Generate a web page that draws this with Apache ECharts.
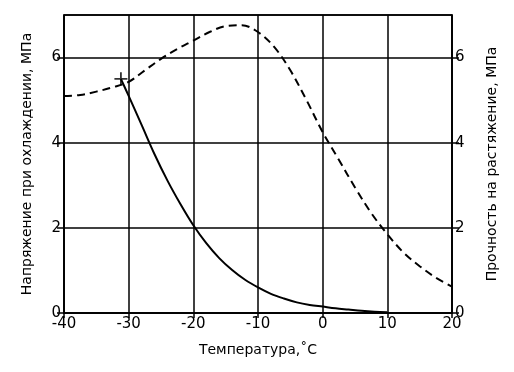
<!DOCTYPE html>
<html><head><meta charset="utf-8">
<script src="https://cdn.jsdelivr.net/npm/echarts@6/dist/echarts.min.js"></script>
<style>html,body{margin:0;padding:0;background:#fff}#c{width:514px;height:372px}</style>
</head><body><div id="c"></div>
<script>
const stressTemps = [-31.2, -30, -28, -26, -24, -22, -20, -18, -16, -14, -12, -10, -8, -6, -4, -2, 0, 2, 4, 6, 8, 10];
const stressValues = [5.5, 5.1, 4.42, 3.73, 3.11, 2.56, 2.06, 1.64, 1.29, 1.01, 0.78, 0.6, 0.45, 0.34, 0.25, 0.19, 0.15, 0.11, 0.08, 0.05, 0.03, 0.02];
const strengthTemps = [-40, -37.5, -35, -32.5, -30, -27.5, -25, -22.5, -20, -17.5, -15, -12.5, -10, -7.5, -5, -2.5, 0, 2.5, 5, 7.5, 10, 12.5, 15, 17.5, 20];
const strengthValues = [5.1, 5.12, 5.2, 5.3, 5.43, 5.7, 5.97, 6.2, 6.4, 6.6, 6.74, 6.76, 6.6, 6.25, 5.7, 5.0, 4.25, 3.6, 2.95, 2.35, 1.85, 1.42, 1.1, 0.83, 0.62];
const xTicks = [-40, -30, -20, -10, 0, 10, 20];
const yTicks = [0, 2, 4, 6];
const xName = 'Температура,˚C';
const yLeftName = 'Напряжение при охлаждении, МПа';
const yRightName = 'Прочность на растяжение, МПа';

const stressData = stressTemps.map((t, i) => [t, stressValues[i]]);
const strengthData = strengthTemps.map((t, i) => [t, strengthValues[i]]);
const font = 'DejaVu Sans';
const chart = echarts.init(document.getElementById('c'), null, {renderer: 'canvas'});
const yAxisBase = (pos) => ({
  type: 'value', position: pos, min: 0, max: 7, interval: 2,
  nameLocation: 'middle', nameGap: pos === 'left' ? 30 : 33,
  nameTextStyle: {fontFamily: font, fontSize: 14, color: '#000'},
  axisLine: {show: true, onZero: false, lineStyle: {color: '#000', width: 1.5}},
  axisTick: {show: true, inside: false, length: 7, lineStyle: {color: '#000', width: 1.5}},
  axisLabel: {fontFamily: font, fontSize: 15, color: '#000', margin: 3, showMaxLabel: false,
    formatter: v => yTicks.includes(v) ? String(v) : ''},
  splitLine: {show: pos === 'left', lineStyle: {color: '#000', width: 1.5}}
});
chart.setOption({
  animation: false,
  backgroundColor: '#fff',
  grid: {left: 64, right: 62, top: 15, bottom: 59, show: true, borderColor: '#000', borderWidth: 1.5},
  xAxis: {
    type: 'value', min: -40, max: 20, interval: 10,
    name: xName, nameLocation: 'middle', nameGap: 30,
    nameTextStyle: {fontFamily: font, fontSize: 14, color: '#000'},
    axisLine: {show: true, onZero: false, lineStyle: {color: '#000', width: 1.5}},
    axisTick: {show: true, inside: false, length: 5, lineStyle: {color: '#000', width: 1.5}},
    axisLabel: {fontFamily: font, fontSize: 15, color: '#000', margin: 4,
      formatter: v => xTicks.includes(v) ? String(v) : ''},
    splitLine: {show: true, lineStyle: {color: '#000', width: 1.5}}
  },
  yAxis: [
    Object.assign(yAxisBase('left'), {name: yLeftName}),
    Object.assign(yAxisBase('right'), {name: yRightName})
  ],
  series: [
    {type: 'line', yAxisIndex: 0, data: stressData, smooth: 0.35, showSymbol: false,
      lineStyle: {color: '#000', width: 2}},
    {type: 'scatter', yAxisIndex: 0, data: [stressData[0]], symbol: 'path://M4.3,0h1.4v10h-1.4z M0,4.3h10v1.4h-10z',
      symbolSize: 13, itemStyle: {color: '#000'}},
    {type: 'line', yAxisIndex: 1, data: strengthData, smooth: 0.35, showSymbol: false,
      lineStyle: {color: '#000', width: 2, type: [8, 5]}}
  ]
});
</script></body></html>
